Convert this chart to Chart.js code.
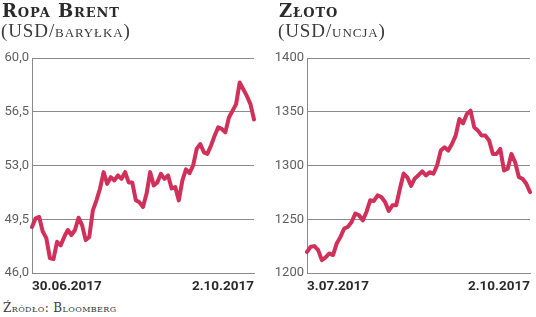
<!DOCTYPE html>
<html>
<head>
<meta charset="utf-8">
<script src="https://cdn.jsdelivr.net/npm/chart.js@4/dist/chart.umd.min.js"></script>
<style>
  html, body { margin: 0; padding: 0; background: #fff; }
  #wrap { position: relative; width: 536px; height: 317px; overflow: hidden; background: #fff; }
  canvas { position: absolute; top: 0; }
  .t { position: absolute; font-family: "DejaVu Serif", serif; font-variant: small-caps; color: #2b2b2b; white-space: nowrap; }
  .title { font-weight: bold; font-size: 18px; letter-spacing: 0.9px; top: 0px; }
  .sub { font-family: "Liberation Serif", serif; font-size: 19px; letter-spacing: 0.9px; top: 20px; color: #3a3a3a; }
  .src { font-size: 12px; letter-spacing: 0.4px; top: 301px; left: 3px; color: #3a3a3a; }
</style>
</head>
<body>
<div id="wrap">
  <canvas id="c1" width="268" height="300" style="left:0"></canvas>
  <canvas id="c2" width="268" height="300" style="left:268px"></canvas>
  <div class="t title" style="left:2px">Ropa Brent</div>
  <div class="t sub" style="left:1px">(USD/baryłka)</div>
  <div class="t title" style="left:279px">Złoto</div>
  <div class="t sub" style="left:278px">(USD/uncja)</div>
  <div class="t src">Źródło: Bloomberg</div>
</div>
<script>
// ---- Data ----
const brentDates = ['30.06.2017', '2.10.2017'];
const brentValues = [49.0, 49.56, 49.65, 48.7, 48.27, 46.97, 46.9, 48.03, 47.8, 48.35,
  48.8, 48.46, 48.8, 49.6, 49.1, 48.14, 48.35, 50.08, 50.73, 51.5,
  52.57, 51.8, 52.24, 52.03, 52.35, 52.13, 52.57, 51.9, 51.9, 50.73,
  50.6, 50.3, 51.17, 52.57, 51.7, 51.9, 52.46, 52.13, 52.35, 51.5,
  51.6, 50.73, 52.03, 52.75, 52.5, 53.0, 54.08, 54.4, 53.86, 53.76,
  54.3, 54.94, 55.48, 55.38, 55.16, 56.13, 56.56, 57.0, 58.4, 57.97,
  57.53, 57.0, 56.0];
const brentTicks = [46.0, 49.5, 53.0, 56.5, 60.0];

const goldDates = ['3.07.2017', '2.10.2017'];
const goldValues = [1219.7, 1224.4, 1225, 1221.3, 1212, 1214.5, 1218.2, 1216.7, 1227.5, 1233.6,
  1241.4, 1242.9, 1247.5, 1255.3, 1253.7, 1249, 1256.8, 1267.6, 1267, 1272.2,
  1270.7, 1266, 1257.7, 1263, 1263, 1278.4, 1292.5, 1289, 1281, 1288,
  1291, 1294.5, 1290.7, 1293.8, 1292.3, 1300, 1313.9, 1317, 1313.9, 1320,
  1327.8, 1343.2, 1339.2, 1347.9, 1351, 1335.5, 1332.4, 1327.8, 1327.8, 1323.2,
  1310.8, 1310.8, 1315.5, 1295.4, 1297, 1310.8, 1303, 1289.2, 1287.7, 1283,
  1275.3];
const goldTicks = [1200, 1250, 1300, 1350, 1400];

// ---- Chart builder ----
function makeChart(id, values, dates, ticks, yWidth, padRight, fmt) {
  const labels = values.map((_, i) => i === 0 ? dates[0] : (i === values.length - 1 ? dates[1] : ''));
  return new Chart(document.getElementById(id), {
    type: 'line',
    data: {
      labels: labels,
      datasets: [{
        data: values,
        borderColor: '#d0305a',
        borderWidth: 4,
        pointRadius: 0,
        tension: 0,
        borderJoinStyle: 'round',
        borderCapStyle: 'round',
        fill: false
      }]
    },
    options: {
      responsive: false,
      animation: false,
      devicePixelRatio: 1,
      layout: { padding: { top: 58, right: padRight, left: 0, bottom: 0 } },
      plugins: { legend: { display: false }, tooltip: { enabled: false } },
      scales: {
        x: {
          offset: false,
          grid: { display: false, drawTicks: false },
          border: { display: true, color: '#8a8a8a', width: 1 },
          ticks: {
            autoSkip: false,
            maxRotation: 0,
            align: 'inner',
            padding: 6,
            color: '#2b2b2b',
            font: { family: 'Roboto', weight: 'bold', size: 13.5 },
            callback: function (v, i) { return labels[i] || null; }
          },
          afterFit: function (s) { s.height = 27; }
        },
        y: {
          min: ticks[0],
          max: ticks[ticks.length - 1],
          afterBuildTicks: function (s) { s.ticks = ticks.map(v => ({ value: v })); },
          grid: { color: '#8a8a8a', lineWidth: 1, drawTicks: false },
          border: { display: true, color: '#8a8a8a', width: 1 },
          ticks: {
            padding: 3,
            color: '#5f5f5f',
            font: { family: 'Roboto', weight: '400', size: 13 },
            callback: fmt
          },
          afterFit: function (s) { s.width = yWidth; }
        }
      }
    }
  });
}

makeChart('c1', brentValues, brentDates, brentTicks, 32, 14, v => v.toFixed(1).replace('.', ','));
makeChart('c2', goldValues, goldDates, goldTicks, 39, 5, v => String(v));
</script>
</body>
</html>
